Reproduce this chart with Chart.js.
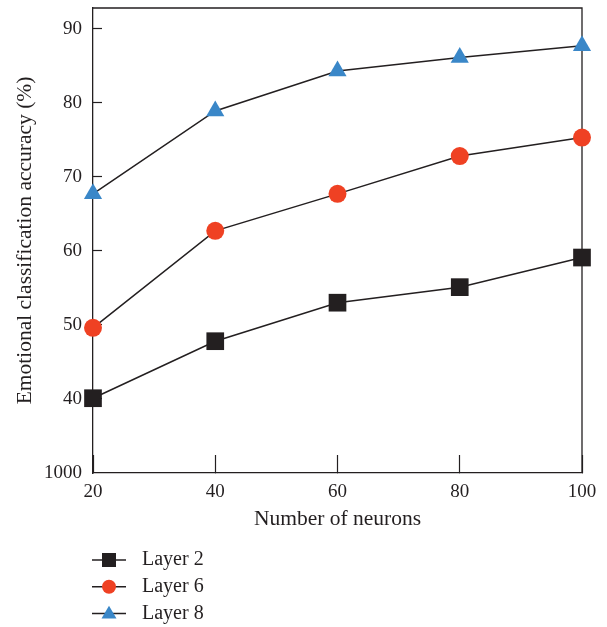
<!DOCTYPE html>
<html>
<head>
<meta charset="utf-8" />
<style>
  body { margin: 0; background: #fff; }
  #wrap { width: 607px; height: 627px; }
</style>
</head>
<body>
<div id="wrap"><canvas id="chart"></canvas></div>

<script src="https://cdn.jsdelivr.net/npm/chart.js"></script>
<script>
// data
const neurons = [20, 40, 60, 80, 100];
const layer2 = [40.1, 47.8, 53.0, 55.1, 59.1];
const layer6 = [49.6, 62.7, 67.7, 72.8, 75.3];
const layer8 = [67.7, 78.9, 84.3, 86.1, 87.7];
const seriesNames = ['Layer 2', 'Layer 6', 'Layer 8'];
const xTicks = [20, 40, 60, 80, 100];
const yTicks = [30, 40, 50, 60, 70, 80, 90];
const yTickLabels = ['1000', '40', '50', '60', '70', '80', '90'];

const ink = '#231f20';
Chart.defaults.font.family = '"Liberation Serif", "Times New Roman", serif';
Chart.defaults.color = ink;

function toPoints(values) {
    return neurons.map((n, i) => ({ x: n, y: values[i] }));
}

// frame on top and right of the plot
const framePlugin = {
    id: 'frame',
    beforeDatasetsDraw(chart) {
        const { ctx, chartArea: a } = chart;
        ctx.save();
        ctx.strokeStyle = ink;
        ctx.lineWidth = 1.3;
        ctx.beginPath();
        ctx.moveTo(a.left, a.top);
        ctx.lineTo(a.right, a.top);
        ctx.lineTo(a.right, a.bottom);
        ctx.stroke();
        ctx.restore();
    }
};

function drawMarker(ctx, style, x, y, size, color) {
    ctx.fillStyle = color;
    ctx.beginPath();
    if (style === 'rect') {
        ctx.rect(x - size / 2, y - size / 2, size, size);
    } else if (style === 'circle') {
        ctx.arc(x, y, size / 2, 0, Math.PI * 2);
    } else {
        const h = size * 0.85;
        ctx.moveTo(x, y - h * 0.6);
        ctx.lineTo(x + size / 2, y + h * 0.4);
        ctx.lineTo(x - size / 2, y + h * 0.4);
        ctx.closePath();
    }
    ctx.fill();
}

// legend stacked below the plot, line through marker
const legendPlugin = {
    id: 'stackLegend',
    afterDraw(chart) {
        const ctx = chart.ctx;
        const left = chart.chartArea.left - 1;
        const top = chart.chartArea.bottom + 87;
        ctx.save();
        ctx.font = '20px "Liberation Serif", "Times New Roman", serif';
        ctx.textBaseline = 'middle';
        chart.data.datasets.forEach((ds, i) => {
            const y = top + i * 26.7;
            ctx.strokeStyle = ink;
            ctx.lineWidth = 1.5;
            ctx.beginPath();
            ctx.moveTo(left, y);
            ctx.lineTo(left + 34, y);
            ctx.stroke();
            drawMarker(ctx, ds.pointStyle, left + 17, y, ds.pointStyle === 'triangle' ? 15 : 14, ds.pointBackgroundColor);
            ctx.fillStyle = ink;
            ctx.fillText(ds.label, left + 50, y);
        });
        ctx.restore();
    }
};

const ctx = document.getElementById('chart').getContext('2d');

new Chart(ctx, {
    type: 'line',
    data: {
        datasets: [
            {
                label: seriesNames[0],
                data: toPoints(layer2),
                borderColor: ink,
                borderWidth: 1.5,
                pointStyle: 'rect',
                pointRadius: 12.5,
                pointBackgroundColor: ink,
                pointBorderWidth: 0,
                clip: false
            },
            {
                label: seriesNames[1],
                data: toPoints(layer6),
                borderColor: ink,
                borderWidth: 1.5,
                pointStyle: 'circle',
                pointRadius: 9,
                pointBackgroundColor: '#ef4123',
                pointBorderWidth: 0,
                clip: false
            },
            {
                label: seriesNames[2],
                data: toPoints(layer8),
                borderColor: ink,
                borderWidth: 1.5,
                pointStyle: 'triangle',
                pointRadius: 10.5,
                pointBackgroundColor: '#3a87c8',
                pointBorderWidth: 0,
                clip: false
            }
        ]
    },
    options: {
        responsive: true,
        maintainAspectRatio: false,
        animation: false,
        layout: { autoPadding: false, padding: { top: 8, right: 25, bottom: 94, left: 0 } },
        plugins: {
            legend: { display: false },
            tooltip: { enabled: false }
        },
        scales: {
            x: {
                type: 'linear',
                min: 20,
                max: 100,
                afterBuildTicks: scale => { scale.ticks = xTicks.map(v => ({ value: v })); },
                afterFit: scale => {
                    scale.height = 60;
                    scale.paddingLeft = 0;
                    scale.paddingRight = 0;
                },
                ticks: { padding: 26, font: { size: 19 }, color: ink },
                grid: { drawOnChartArea: false, tickLength: -18, tickColor: ink, tickWidth: 1.2 },
                border: { color: ink, width: 1.3 },
                title: {
                    display: true,
                    text: 'Number of neurons',
                    font: { size: 21.5 },
                    color: ink,
                    padding: { top: 0, bottom: 1 }
                }
            },
            y: {
                min: 30,
                max: 92.8,
                afterBuildTicks: scale => { scale.ticks = yTicks.map(v => ({ value: v })); },
                afterFit: scale => {
                    scale.width = 93;
                    scale.paddingTop = 0;
                    scale.paddingBottom = 0;
                },
                ticks: {
                    padding: 20,
                    font: { size: 19 },
                    color: ink,
                    callback: value => yTickLabels[yTicks.indexOf(value)]
                },
                grid: {
                    drawOnChartArea: false,
                    tickLength: -9,
                    tickColor: ctx => (ctx.tick && ctx.tick.value === 30 ? 'rgba(0,0,0,0)' : ink),
                    tickWidth: 1.2
                },
                border: { color: ink, width: 1.3 },
                title: {
                    display: true,
                    text: 'Emotional classification accuracy (%)',
                    font: { size: 21.5 },
                    color: ink,
                    padding: { top: 12, bottom: 0 }
                }
            }
        }
    },
    plugins: [framePlugin, legendPlugin]
});
</script>
</body>
</html>
